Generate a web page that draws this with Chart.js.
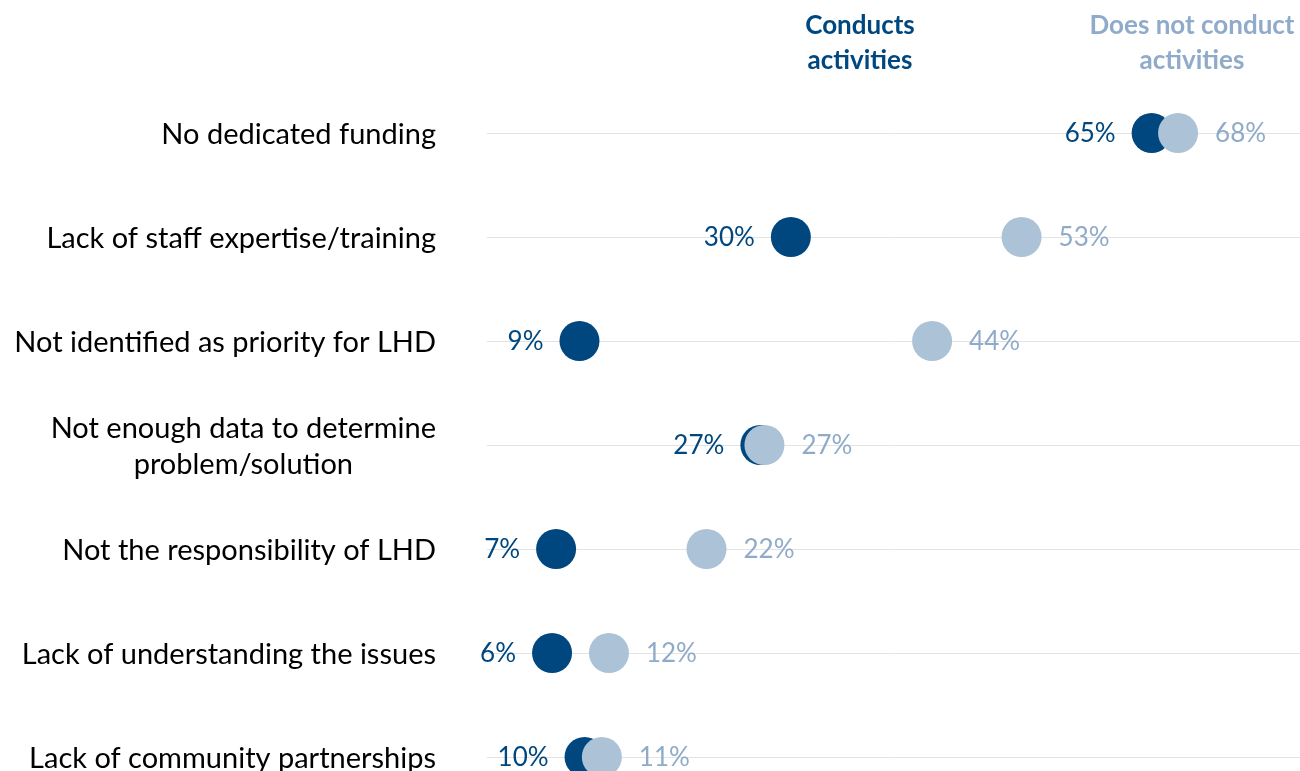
<!DOCTYPE html>
<html>
<head>
<meta charset="utf-8">
<script src="https://cdn.jsdelivr.net/npm/chart.js@4.4.0/dist/chart.umd.min.js"></script>
<style>
  html, body { margin: 0; padding: 0; background: #fff; overflow: hidden; }
  #wrap { position: relative; width: 1300px; height: 809px; }
</style>
</head>
<body>
<div id="wrap"><canvas id="dotChart"></canvas></div>
<script>
// Barriers (rows, top to bottom)
const barriers = [
    ['No dedicated funding'],
    ['Lack of staff expertise/training'],
    ['Not identified as priority for LHD'],
    ['Not enough data to determine', 'problem/solution'],
    ['Not the responsibility of LHD'],
    ['Lack of understanding the issues'],
    ['Lack of community partnerships']
];

// Percent of LHDs
const conductsValues = [65.4, 29.9, 9.1, 26.9, 6.8, 6.4, 9.6];
const notConductValues = [68.0, 52.6, 43.8, 27.3, 21.6, 12.0, 11.3];

const seriesNames = [['Conducts', 'activities'], ['Does not conduct', 'activities']];

const DARK = '#00477f';
const LIGHT = '#abc2d7';
const LIGHT_TEXT = '#8fabc9';
const FONT = 'Lato, "Open Sans", sans-serif';

// Draws row labels, value labels and the two column headers
const textPlugin = {
    id: 'textPlugin',
    afterDatasetsDraw(chart) {
        const ctx = chart.ctx;
        const yScale = chart.scales.y;
        ctx.save();

        // row labels, right aligned, multi-line centred on the first line
        ctx.fillStyle = '#000';
        ctx.font = '29px ' + FONT;
        ctx.textBaseline = 'middle';
        barriers.forEach((lines, i) => {
            const y = yScale.getPixelForTick(i) + 2;
            const right = 436;
            const lh = 36;
            const top = y - (lines.length - 1) * lh / 2;
            const w0 = ctx.measureText(lines[0]).width;
            const centre = right - w0 / 2;
            lines.forEach((line, j) => {
                ctx.textAlign = j === 0 ? 'right' : 'center';
                ctx.fillText(line, j === 0 ? right : centre, top + j * lh);
            });
        });

        // value labels
        ctx.font = '26px ' + FONT;
        chart.data.datasets.forEach((ds, di) => {
            const meta = chart.getDatasetMeta(di);
            meta.data.forEach((pt, i) => {
                const txt = Math.round(ds.data[i]) + '%';
                if (ds.side === 'left') {
                    ctx.textAlign = 'right';
                    ctx.fillStyle = DARK;
                    ctx.fillText(txt, pt.x - 36, pt.y + 1);
                } else {
                    ctx.textAlign = 'left';
                    ctx.fillStyle = LIGHT_TEXT;
                    ctx.fillText(txt, pt.x + 37, pt.y + 1);
                }
            });
        });

        // column headers
        ctx.font = 'bold 26px ' + FONT;
        ctx.textAlign = 'center';
        const heads = [[860, DARK], [1192, LIGHT_TEXT]];
        seriesNames.forEach((lines, k) => {
            ctx.fillStyle = heads[k][1];
            lines.forEach((line, j) => ctx.fillText(line, heads[k][0], 26 + j * 35));
        });
        ctx.restore();
    }
};

const ctx = document.getElementById('dotChart').getContext('2d');
const dotChart = new Chart(ctx, {
    type: 'line',
    data: {
        labels: barriers.map(l => l.join(' ')),
        datasets: [
            {
                label: 'Conducts activities',
                data: conductsValues,
                side: 'left',
                order: 2,
                showLine: false,
                pointRadius: 20,
                pointHoverRadius: 20,
                pointBorderWidth: 0,
                pointBackgroundColor: DARK,
                pointBorderColor: DARK
            },
            {
                label: 'Does not conduct activities',
                data: notConductValues,
                side: 'right',
                order: 1,
                showLine: false,
                pointRadius: 20,
                pointHoverRadius: 20,
                pointBorderWidth: 0,
                pointBackgroundColor: LIGHT,
                pointBorderColor: LIGHT
            }
        ]
    },
    options: {
        indexAxis: 'y',
        responsive: true,
        maintainAspectRatio: false,
        animation: false,
        layout: { autoPadding: false, padding: { left: 487, top: 81, right: 0, bottom: 0 } },
        scales: {
            x: { type: 'linear', min: 0, max: 80, display: false },
            y: {
                type: 'category',
                offset: true,
                border: { display: false },
                grid: { offset: false, color: '#e3e3e3', lineWidth: 1, drawTicks: false },
                ticks: { display: false }
            }
        },
        plugins: {
            legend: { display: false },
            tooltip: { enabled: false }
        }
    },
    plugins: [textPlugin]
});
</script>
</body>
</html>
